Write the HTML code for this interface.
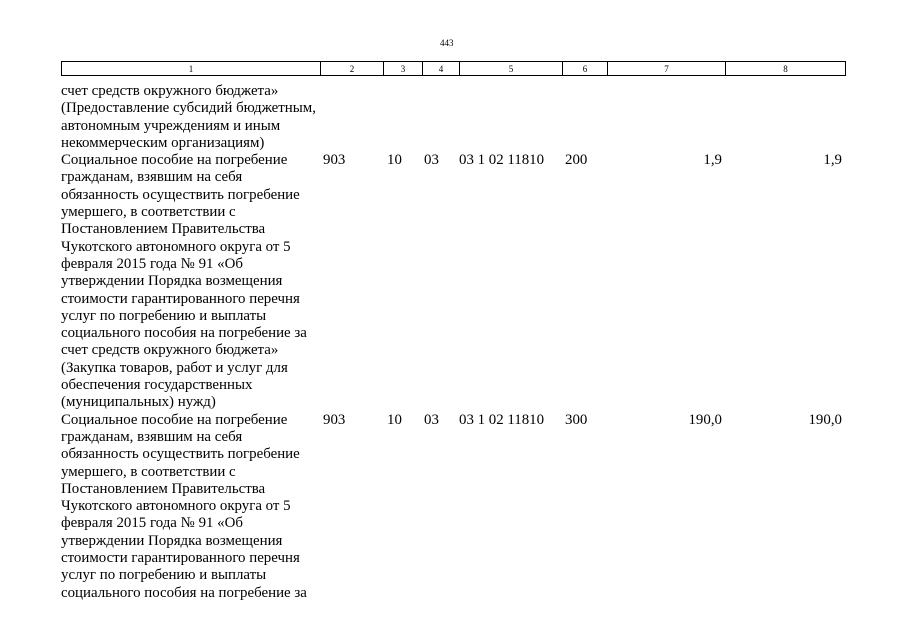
<!DOCTYPE html>
<html><head><meta charset="utf-8"><style>
body{margin:0;background:#fff;width:905px;height:640px;position:relative;overflow:hidden;font-family:"Liberation Serif",serif;color:#000}
.pn{position:absolute;top:38px;left:440px;font-size:9px}
table.h{position:absolute;left:61px;top:61px;border-collapse:collapse;font-size:9px}
table.h td{border:1px solid #000;height:13px;padding:0;text-align:center}
.t{position:absolute;left:61px;top:83px;font-size:14.9px;line-height:17.3px;white-space:nowrap}
.n{position:absolute;font-size:14.9px;line-height:17.3px;white-space:nowrap}
.r{text-align:right}
</style></head><body>
<div class="pn">443</div>
<table class="h"><tr>
<td style="width:258px">1</td><td style="width:62px">2</td><td style="width:38px">3</td><td style="width:36px">4</td><td style="width:102px">5</td><td style="width:44px">6</td><td style="width:117px">7</td><td style="width:119px">8</td></tr></table>
<div class="t">счет средств окружного бюджета»<br>(Предоставление субсидий бюджетным,<br>автономным учреждениям и иным<br>некоммерческим организациям)<br>Социальное пособие на погребение<br>гражданам, взявшим на себя<br>обязанность осуществить погребение<br>умершего, в соответствии с<br>Постановлением Правительства<br>Чукотского автономного округа от 5<br>февраля 2015 года № 91 «Об<br>утверждении Порядка возмещения<br>стоимости гарантированного перечня<br>услуг по погребению и выплаты<br>социального пособия на погребение за<br>счет средств окружного бюджета»<br>(Закупка товаров, работ и услуг для<br>обеспечения государственных<br>(муниципальных) нужд)<br>Социальное пособие на погребение<br>гражданам, взявшим на себя<br>обязанность осуществить погребение<br>умершего, в соответствии с<br>Постановлением Правительства<br>Чукотского автономного округа от 5<br>февраля 2015 года № 91 «Об<br>утверждении Порядка возмещения<br>стоимости гарантированного перечня<br>услуг по погребению и выплаты<br>социального пособия на погребение за</div>
<div class="n" style="top:152.2px;left:323px">903</div>
<div class="n" style="top:152.2px;left:387px">10</div>
<div class="n" style="top:152.2px;left:424px">03</div>
<div class="n" style="top:152.2px;left:459px">03 1 02 11810</div>
<div class="n" style="top:152.2px;left:565px">200</div>
<div class="n r" style="top:152.2px;left:620px;width:102px">1,9</div>
<div class="n r" style="top:152.2px;left:740px;width:102px">1,9</div>
<div class="n" style="top:411.7px;left:323px">903</div>
<div class="n" style="top:411.7px;left:387px">10</div>
<div class="n" style="top:411.7px;left:424px">03</div>
<div class="n" style="top:411.7px;left:459px">03 1 02 11810</div>
<div class="n" style="top:411.7px;left:565px">300</div>
<div class="n r" style="top:411.7px;left:620px;width:102px">190,0</div>
<div class="n r" style="top:411.7px;left:740px;width:102px">190,0</div>
</body></html>
